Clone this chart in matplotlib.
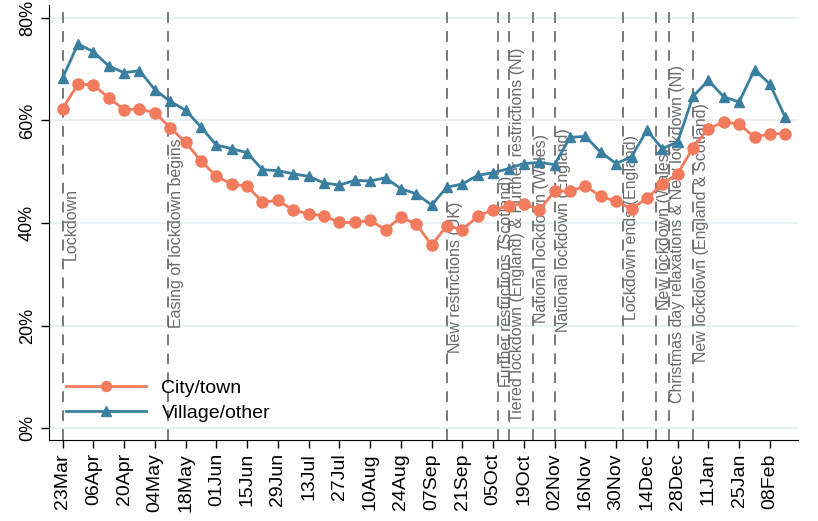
import numpy as np
import pandas as pd
import matplotlib
matplotlib.use("Agg")
import matplotlib.pyplot as plt

plt.rcParams['font.family'] = ['Liberation Sans', 'DejaVu Sans']

# weekly survey waves
weeks = pd.date_range("2020-03-23", periods=48, freq="7D")

city = [62.3, 67.1, 66.9, 64.4, 62.1, 62.2, 61.5, 58.6, 55.7, 52.1, 49.1, 47.6,
        47.2, 44.1, 44.4, 42.5, 41.8, 41.4, 40.1, 40.1, 40.5, 38.7, 41.1, 39.8,
        35.7, 39.5, 38.7, 41.3, 42.6, 43.3, 43.8, 42.5, 46.2, 46.2, 47.2, 45.2,
        44.2, 42.8, 44.8, 47.6, 49.6, 54.7, 58.4, 59.7, 59.3, 56.7, 57.4, 57.4]
village = [68.3, 74.9, 73.4, 70.6, 69.3, 69.7, 66.0, 63.7, 62.0, 58.7, 55.2, 54.5,
           53.7, 50.4, 50.2, 49.6, 49.1, 47.8, 47.4, 48.3, 48.2, 48.8, 46.7, 45.7,
           43.5, 47.0, 47.6, 49.3, 49.8, 50.6, 51.6, 51.8, 51.4, 56.7, 56.9, 53.8,
           51.6, 52.9, 58.1, 54.5, 55.8, 64.7, 67.8, 64.6, 63.6, 69.9, 67.1, 60.6]

events = ["2020-03-23", "2020-05-10", "2020-09-14", "2020-10-07", "2020-10-12",
          "2020-10-23", "2020-11-02", "2020-12-03", "2020-12-18", "2020-12-24",
          "2021-01-04"]
event_labels = ["Lockdown", "Easing of lockdown begins", "New restrictions (UK)",
                "Further restrictions (Scotland)",
                "Tiered lockdown (England) & Further restrictions (NI)",
                "National lockdown (Wales)", "National lockdown (England)",
                "Lockdown ends (England)", "New lockdown (Wales)",
                "Christmas day relaxations & New lockdown (NI)",
                "New lockdown (England & Scotland)"]
event_text_y = [32.7, 19.5, 14.6, 8.0, 1.2, 20.5, 18.7, 21.1, 23.0, 4.9, 12.9]

tick_dates = pd.date_range("2020-03-23", "2021-02-08", freq="14D")
tick_labels = [d.strftime("%d%b") for d in tick_dates]

c_city = "#F27B5E"
c_vil = "#3A7FA0"

fig = plt.figure(figsize=(8.18, 5.21), dpi=100)
ax = fig.add_axes([49/818, 81/521, 749/818, 435/521])

for v in [0, 20, 40, 60, 80]:
    ax.axhline(v, color="#E6EFF2", lw=1.2, zorder=0)

for d, lab, ty in zip(events, event_labels, event_text_y):
    dd = pd.Timestamp(d)
    ax.axvline(dd, color="#707070", lw=1.3, ls=(0, (6, 4.5)), zorder=1)
    ax.text(dd + pd.Timedelta(days=0.6), ty, lab, rotation=90, ha="left", va="bottom",
            color="#6A6A6A", fontsize=11.5, zorder=2)

ax.plot(weeks, city, color=c_city, lw=2, marker="o", ms=8, label="City/town", zorder=3)
ax.plot(weeks, village, color=c_vil, lw=2, marker="^", ms=7.5, label="Village/other", zorder=3)

ax.set_ylim(-2.3, 82.5)
ax.set_xlim(pd.Timestamp("2020-03-23") - pd.Timedelta(days=6.2),
            pd.Timestamp("2020-03-23") + pd.Timedelta(days=334.8))
ax.set_yticks([0, 20, 40, 60, 80])
ax.set_yticklabels(["0%", "20%", "40%", "60%", "80%"], rotation=90, va="center", fontsize=13)
ax.set_xticks(tick_dates)
ax.set_xticklabels(tick_labels, rotation=90, fontsize=14)
ax.tick_params(length=6, width=1, colors="black")

for s in ["top", "right"]:
    ax.spines[s].set_visible(False)

ax.legend(loc="lower left", bbox_to_anchor=(0.01, 0.02), frameon=False, fontsize=14,
          handlelength=4.1, labelspacing=0.35, borderpad=0, markerscale=0.9)

fig.savefig("out.png", dpi=100)
